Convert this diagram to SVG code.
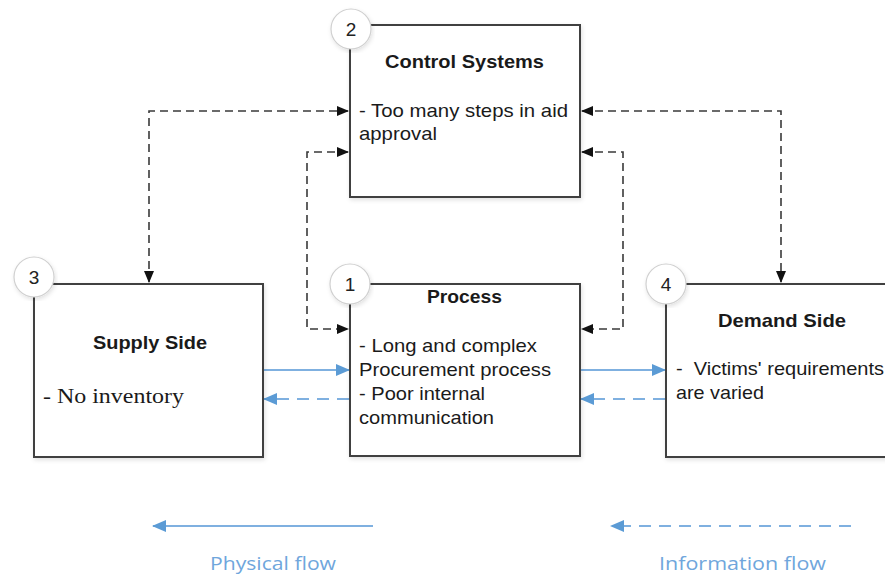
<svg xmlns="http://www.w3.org/2000/svg" width="885" height="576" viewBox="0 0 885 576">
  <style>
    .box { fill: #ffffff; stroke: #404040; stroke-width: 2; }
    .badge { fill: #ffffff; stroke: #d0d0d0; stroke-width: 1.2; }
    .num { font-family: "Liberation Sans", Arial, sans-serif; font-size: 19px; fill: #222; text-anchor: middle; }
    .title { font-family: "Liberation Sans", Arial, sans-serif; font-size: 19px; font-weight: bold; fill: #1a1a1a; }
    .body { font-family: "Liberation Sans", Arial, sans-serif; font-size: 19px; fill: #1a1a1a; }
    .serif { font-family: "Liberation Serif", "Times New Roman", serif; font-size: 21px; fill: #1a1a1a; }
    .ctrl { fill: none; stroke: #3a3a3a; stroke-width: 1.6; stroke-dasharray: 8 5; }
    .phys { fill: none; stroke: #7fb0e0; stroke-width: 2; }
    .info { fill: none; stroke: #7fb0e0; stroke-width: 2; stroke-dasharray: 12 8; }
    .legend { font-family: "Open Sans", "Noto Sans", sans-serif; font-size: 19px; fill: #6fa6dc; }
  </style>
  <defs>
    <marker id="blackHead" markerWidth="12" markerHeight="10" refX="11" refY="5" orient="auto-start-reverse" markerUnits="userSpaceOnUse">
      <path d="M0,0 L12,5 L0,10 Z" fill="#111"/>
    </marker>
    <marker id="blueHead" markerWidth="14" markerHeight="12" refX="13" refY="6" orient="auto-start-reverse" markerUnits="userSpaceOnUse">
      <path d="M0,0 L14,6 L0,12 Z" fill="#5b9bd5"/>
    </marker>
    <filter id="soft" x="-10%" y="-10%" width="120%" height="120%">
      <feDropShadow dx="1" dy="2" stdDeviation="2" flood-color="#000" flood-opacity="0.12"/>
    </filter>
  </defs>

  <!-- connectors -->
  <g id="connectors">
    <!-- control links (dashed, two-way) -->
    <path class="ctrl" d="M149,282 L149,111 L348,111" marker-start="url(#blackHead)" marker-end="url(#blackHead)"/>
    <path class="ctrl" d="M348,152 L307,152 L307,329 L348,329" marker-start="url(#blackHead)" marker-end="url(#blackHead)"/>
    <path class="ctrl" d="M582,111 L781,111 L781,282" marker-start="url(#blackHead)" marker-end="url(#blackHead)"/>
    <path class="ctrl" d="M582,152 L623,152 L623,329 L582,329" marker-start="url(#blackHead)" marker-end="url(#blackHead)"/>
    <!-- physical flow -->
    <path class="phys" d="M264,370 L349,370" marker-end="url(#blueHead)"/>
    <path class="phys" d="M581,370 L665,370" marker-end="url(#blueHead)"/>
    <!-- information flow -->
    <path class="info" d="M349,399 L264,399" marker-end="url(#blueHead)"/>
    <path class="info" d="M665,399 L581,399" marker-end="url(#blueHead)"/>
  </g>

  <!-- 2: control systems -->
  <g id="control-systems">
    <rect class="box" x="350" y="25" width="230" height="172" filter="url(#soft)"/>
    <circle class="badge" cx="351" cy="29" r="20" filter="url(#soft)"/>
    <text class="num" x="351" y="36">2</text>
    <text class="title" x="385" y="68" textLength="159" lengthAdjust="spacingAndGlyphs">Control Systems</text>
    <text class="body" x="359" y="117" textLength="209" lengthAdjust="spacingAndGlyphs">- Too many steps in aid</text>
    <text class="body" x="359" y="140" textLength="78" lengthAdjust="spacingAndGlyphs">approval</text>
  </g>

  <!-- 3: supply side -->
  <g id="supply-side">
    <rect class="box" x="34" y="284" width="229" height="173" filter="url(#soft)"/>
    <circle class="badge" cx="34" cy="277" r="20" filter="url(#soft)"/>
    <text class="num" x="34" y="284">3</text>
    <text class="title" x="93" y="349" textLength="114" lengthAdjust="spacingAndGlyphs">Supply Side</text>
    <text class="serif" x="43" y="403" textLength="141" lengthAdjust="spacingAndGlyphs">- No inventory</text>
  </g>

  <!-- 1: process -->
  <g id="process">
    <rect class="box" x="350" y="284" width="230" height="172" filter="url(#soft)"/>
    <circle class="badge" cx="350" cy="284" r="20" filter="url(#soft)"/>
    <text class="num" x="350" y="291">1</text>
    <text class="title" x="427" y="303" textLength="75" lengthAdjust="spacingAndGlyphs">Process</text>
    <text class="body" x="359" y="352" textLength="178" lengthAdjust="spacingAndGlyphs">- Long and complex</text>
    <text class="body" x="359" y="376" textLength="192" lengthAdjust="spacingAndGlyphs">Procurement process</text>
    <text class="body" x="359" y="400" textLength="126" lengthAdjust="spacingAndGlyphs">- Poor internal</text>
    <text class="body" x="359" y="424" textLength="135" lengthAdjust="spacingAndGlyphs">communication</text>
  </g>

  <!-- 4: demand side -->
  <g id="demand-side">
    <rect class="box" x="666" y="284" width="240" height="173" filter="url(#soft)"/>
    <circle class="badge" cx="666" cy="284" r="20" filter="url(#soft)"/>
    <text class="num" x="666" y="291">4</text>
    <text class="title" x="718" y="327" textLength="128" lengthAdjust="spacingAndGlyphs">Demand Side</text>
    <text class="body" x="676" y="375" xml:space="preserve" textLength="208" lengthAdjust="spacingAndGlyphs">-  Victims' requirements</text>
    <text class="body" x="676" y="399" textLength="88" lengthAdjust="spacingAndGlyphs">are varied</text>
  </g>

  <!-- legend -->
  <g id="legend">
    <path class="phys" d="M373,526 L153,526" marker-end="url(#blueHead)"/>
    <text class="legend" x="210" y="570" textLength="126" lengthAdjust="spacingAndGlyphs">Physical flow</text>
    <path class="info" d="M851,526 L611,526" marker-end="url(#blueHead)"/>
    <text class="legend" x="659" y="570" textLength="167" lengthAdjust="spacingAndGlyphs">Information flow</text>
  </g>
</svg>
